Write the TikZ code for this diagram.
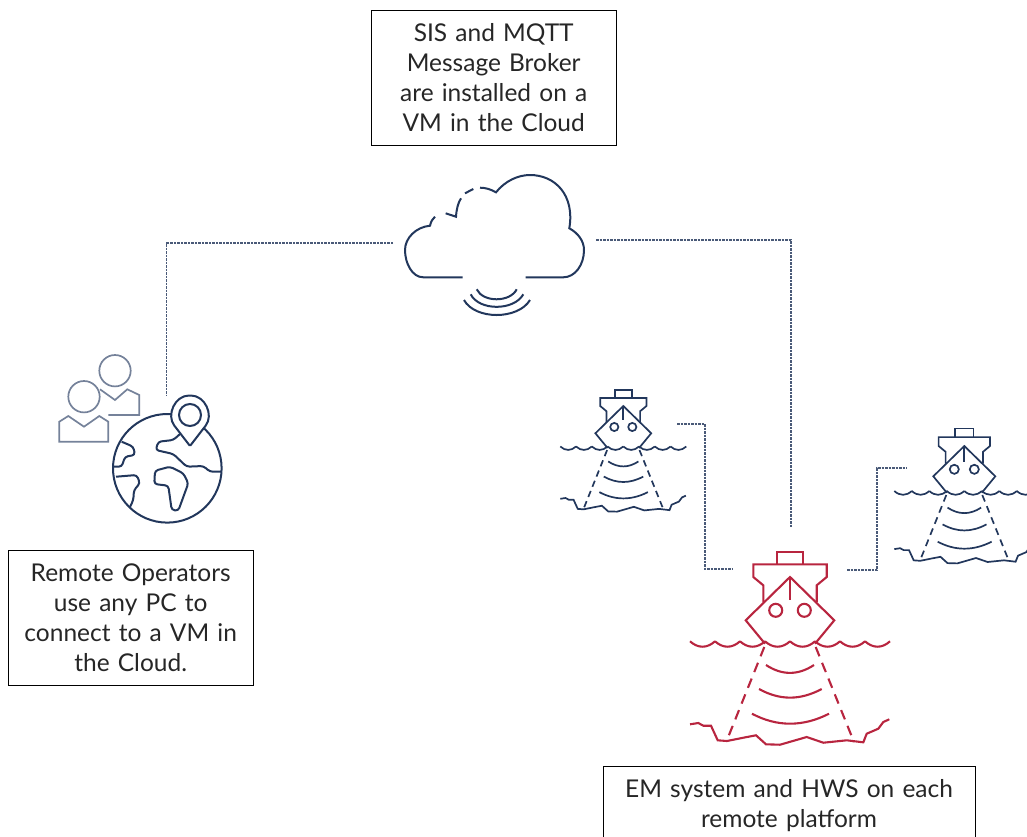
\documentclass[tikz,border=0pt]{standalone}
\usepackage{fontspec}
\setmainfont{Lato}
\usetikzlibrary{calc}
\usetikzlibrary{positioning}
\definecolor{navyline}{HTML}{22375C}
\definecolor{shipred}{HTML}{B8253F}
\definecolor{linkgrey}{HTML}{4A5A78}
\definecolor{peoplegrey}{HTML}{75829A}
\tikzset{
    infobox/.style={draw, line width=0.8pt, text width=#1, align=center, inner sep=6pt,
        font=\fontsize{24.5}{30}\selectfont, text=black!85},
    link/.style={color=linkgrey, line width=1.5pt, dash pattern=on 2.5pt off 1pt},
    icon/.style={color=navyline, line width=2pt},
    beam/.style={dash pattern=on 10pt off 7pt},
    ship/.pic={
        \draw (-13.3,-12.7) -- (-13.3,-25) -- (13.3,-25) -- (13.3,-12.7);
        \draw (-26.7,25) -- (-26.7,8.3) -- (-36.7,0) -- (-36.7,-12.7) -- (36.7,-12.7) -- (36.7,0) -- (26.7,8.3) -- (26.7,25);
        \draw (-25,66.7) -- (-44.3,43.3) -- (0,0) -- (44.3,43.3) -- (25,66.7);
        \draw (0,0) -- (0,23);
        \draw (-14.3,33.3) circle (6.5);
        \draw (14.3,33.3) circle (6.5);
        \foreach \wx in {-100,-75,...,75}
            \draw ({\wx},64.3) .. controls ({\wx+8},71.5) and ({\wx+17},71.5) .. ({\wx+25},64.3);
        \draw (-100,147.3) -- (-91.7,146) -- (-86.7,148.7) -- (-79,148.7) -- (-72.3,163.3) -- (-63,164) -- (-46.7,160.7) -- (-34,158.3) -- (-24,167.3) -- (-10,167.7) -- (16.7,160) -- (33.3,165.7) -- (56.7,163.3) -- (73.3,165.3) -- (76.7,156.7) -- (88.3,151.7) -- (93.3,145) -- (99.3,142.3);
        \draw[beam] (-25.7,70) -- (-63,163);
        \draw[beam] (25.7,70) -- (64,165);
        \draw (-24,88) .. controls (-8,98.5) and (8,98.5) .. (24,88);
        \draw (-31,112) .. controls (-10,123.5) and (10,123.5) .. (31.7,112);
        \draw (-38,136.7) .. controls (-13,150) and (13,150) .. (39,136.7);
    }
}

\begin{document}
\begin{tikzpicture}[x=1pt,y=-1pt]

\useasboundingbox (0,0) rectangle (1027,836);

\node[infobox=232pt, minimum width=244.5pt, minimum height=134.5pt] (sisbox) at (493.7,77.7)
    {SIS and MQTT\\Message Broker\\are installed on a\\VM in the Cloud};
\node[infobox=232pt, minimum width=244.5pt, minimum height=134.5pt] (operatorbox) at (130.7,618)
    {Remote Operators\\use any PC to\\connect to a VM in\\the Cloud.};
\node[infobox=360pt, minimum width=372pt, minimum height=79pt] (platformbox) at (789,805.5)
    {EM system and HWS on each\\remote platform};

% cloud
\draw[icon] (462.7,277.3) -- (423.3,277.3) .. controls (412,277.3) and (405,263) .. (405,250)
    .. controls (405,238) and (416,227) .. (430,225.7) .. controls (431,221) and (433,218.5) .. (435,216.7);
\draw[icon] (445.7,213.3) -- (456,216.7) .. controls (456.5,209) and (458,203) .. (461,198.3);
\draw[icon] (465,193.3) -- (473.3,189);
\draw[icon] (480,187.7) .. controls (486,187.7) and (491,189.5) .. (496,192.3)
    .. controls (505,181) and (518,175) .. (530,175) .. controls (555,175) and (575,195) .. (569.3,228.3)
    .. controls (578,233) and (584,241) .. (584,250) .. controls (584,265) and (575,277.3) .. (563.3,277.3) -- (525.7,277.3);
\draw[icon] (476.7,289.3) .. controls (483,302.6) and (510,302.6) .. (516.7,289.3);
\draw[icon] (470.7,294.3) .. controls (479,311) and (514,311) .. (523.3,294.3);
\draw[icon] (464,300) .. controls (475,320) and (518,320) .. (530,300);

% people
\draw[color=peoplegrey, line width=1.7pt] (115,370.7) circle (15.7);
\draw[color=peoplegrey, line width=1.7pt] (100,389.3) -- (115,400) -- (127.3,389.3) -- (139.3,395) -- (139.3,415) -- (108.3,415);
\draw[color=peoplegrey, line width=1.7pt] (84,396.7) circle (15.7);
\draw[color=peoplegrey, line width=1.7pt] (59.3,441.7) -- (59.3,421.7) -- (68.3,416) -- (84,426.7) -- (99.3,416) -- (108.3,421.7) -- (108.3,441.7) -- cycle;

% globe
\draw[icon] (167.3,468.3) circle (54.3);
\draw[icon, rounded corners=3pt] (180,434) -- (173.3,440) -- (158.3,441.7) -- (155.7,450) -- (173.3,454) -- (186.7,466.7) -- (203.3,466) -- (210,471.7) -- (221.6,471.7);
\draw[icon, rounded corners=3pt] (121.7,441.7) -- (133.3,446.7) -- (135,455) -- (125,456.7) -- (121.7,466.7) -- (113.2,466.7);
\draw[icon, rounded corners=3pt] (116,476.7) -- (136.7,475) -- (140,483.3) -- (134,490) -- (133.3,500) -- (130,507);
\draw[icon, rounded corners=3pt] (170,466.7) -- (155,470.7) -- (154.3,484) -- (168.3,485.7) -- (171.7,510) -- (178.3,510.7) -- (188.3,483.3) -- (183.3,473.3) -- cycle;
\draw[icon, fill=white, rounded corners=1pt] (190,446) -- (175,426.5) .. controls (166,415) and (175,395.5) .. (190,395.5) .. controls (205,395.5) and (214,415) .. (205,426.5) -- cycle;
\draw[icon] (190,415) circle (11);

% ships
\pic[color=navyline, line width=1.7pt, beam/.style={dash pattern=on 6.5pt off 4.5pt}] (shipleft) at (623.3,406) [scale=0.63] {ship};
\pic[color=navyline, line width=1.7pt, beam/.style={dash pattern=on 7pt off 5pt}] (shipright) at (964.3,446) [scale=0.7] {ship};
\pic[color=shipred, line width=2.1pt] (shipmain) at (790,577) {ship};

\coordinate (cloudleft) at (393,243);
\coordinate (cloudright) at (596,240);
\coordinate (operators) at (166.7,396);
\coordinate (mainship) at (791,527);
\coordinate (leftshipend) at (677,424);
\coordinate (mainleft) at (733,569);
\coordinate (mainright) at (847,570);
\coordinate (rightshipend) at (907,468);

\draw[link] (cloudleft) -| (operators);
\draw[link] (cloudright) -| (mainship);
\draw[link] (leftshipend) -- (705,424) |- (mainleft);
\draw[link] (mainright) -- (877,570) |- (rightshipend);

\end{tikzpicture}
\end{document}
